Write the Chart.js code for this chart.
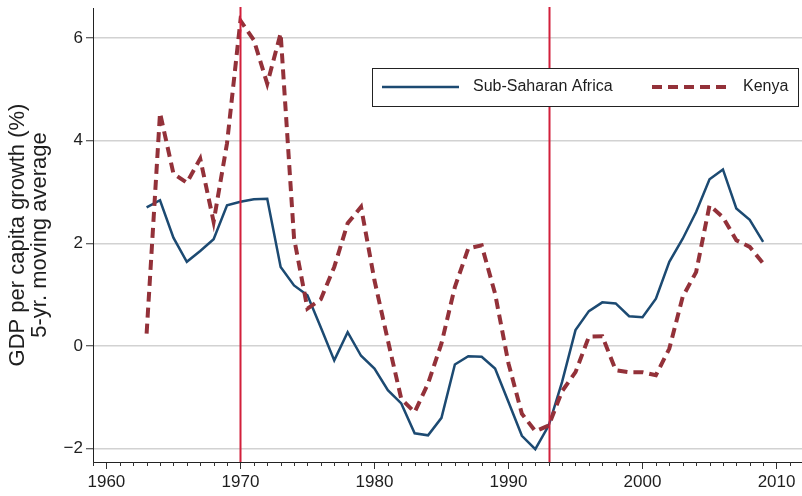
<!DOCTYPE html>
<html>
<head>
<meta charset="utf-8">
<script src="https://cdn.jsdelivr.net/npm/chart.js@4.4.0/dist/chart.umd.min.js"></script>
<style>
  html, body { margin: 0; padding: 0; background: #fff; }
</style>
</head>
<body>
<canvas id="gdpChart" width="802" height="496"></canvas>
<script>
// years on the x axis
const years = [1963, 1964, 1965, 1966, 1967, 1968, 1969, 1970, 1971, 1972,
               1973, 1974, 1975, 1976, 1977, 1978, 1979, 1980, 1981, 1982,
               1983, 1984, 1985, 1986, 1987, 1988, 1989, 1990, 1991, 1992,
               1993, 1994, 1995, 1996, 1997, 1998, 1999, 2000, 2001, 2002,
               2003, 2004, 2005, 2006, 2007, 2008, 2009];

// GDP per capita growth, 5-yr moving average (%)
const ssaValues = [2.70, 2.84, 2.11, 1.64, 1.85, 2.08, 2.74, 2.81, 2.86, 2.87,
                   1.54, 1.18, 0.99, 0.36, -0.28, 0.27, -0.19, -0.44, -0.86, -1.12,
                   -1.70, -1.74, -1.40, -0.36, -0.20, -0.21, -0.44, -1.09, -1.75, -2.01,
                   -1.55, -0.70, 0.31, 0.68, 0.85, 0.83, 0.58, 0.56, 0.92, 1.64,
                   2.09, 2.61, 3.25, 3.44, 2.68, 2.46, 2.03];

const kenyaValues = [0.24, 4.54, 3.36, 3.18, 3.65, 2.42, 3.95, 6.34, 5.96, 5.11,
                     6.09, 2.10, 0.73, 0.91, 1.54, 2.39, 2.71, 1.28, 0.11, -1.03,
                     -1.29, -0.73, 0.05, 1.15, 1.90, 1.96, 1.02, -0.34, -1.32, -1.66,
                     -1.55, -0.88, -0.51, 0.18, 0.19, -0.47, -0.51, -0.51, -0.57, -0.05,
                     0.96, 1.44, 2.74, 2.51, 2.06, 1.93, 1.61];

const seriesNames = ['Sub-Saharan Africa', 'Kenya'];
const xTickYears = [1960, 1970, 1980, 1990, 2000, 2010];
const yTickValues = [-2, 0, 2, 4, 6];
const markerYears = [1970, 1993];

const blue = '#1c4a72';
const red = '#933139';
const lineRed = '#d21f3b';
const textColor = '#1e1e1e';
const fontFamily = '"Liberation Sans", Arial, Helvetica, sans-serif';

// vertical lines, minor year ticks and the boxed legend
const extras = {
    id: 'extras',
    afterDatasetsDraw(chart) {
        const { ctx, chartArea, scales: { x } } = chart;
        ctx.save();
        ctx.strokeStyle = lineRed;
        ctx.lineWidth = 2;
        markerYears.forEach(function(yr) {
            const px = Math.round(x.getPixelForValue(yr)) + 0.5;
            ctx.beginPath();
            ctx.moveTo(px, chartArea.top - 1);
            ctx.lineTo(px, chartArea.bottom);
            ctx.stroke();
        });
        ctx.restore();
    },
    afterDraw(chart) {
        const { ctx, chartArea, scales: { x } } = chart;
        ctx.save();
        // minor ticks every year
        ctx.strokeStyle = '#333';
        ctx.lineWidth = 1;
        for (let yr = Math.ceil(x.min); yr <= x.max; yr++) {
            if (yr % 10 === 0) continue;
            const px = Math.round(x.getPixelForValue(yr)) + 0.5;
            ctx.beginPath();
            ctx.moveTo(px, chartArea.bottom);
            ctx.lineTo(px, chartArea.bottom + 4);
            ctx.stroke();
        }

        // legend box
        const bx = 372, by = 68, bw = 426, bh = 38;
        ctx.fillStyle = '#fff';
        ctx.fillRect(bx, by, bw, bh);
        ctx.strokeStyle = '#222';
        ctx.lineWidth = 1;
        ctx.strokeRect(bx + 0.5, by + 0.5, bw, bh);

        const cy = by + bh / 2;
        const ds = chart.data.datasets;
        ctx.font = '16px ' + fontFamily;
        ctx.textBaseline = 'middle';
        ctx.fillStyle = textColor;

        ctx.strokeStyle = blue;
        ctx.lineWidth = 2.5;
        ctx.beginPath();
        ctx.moveTo(bx + 10, cy);
        ctx.lineTo(bx + 87, cy);
        ctx.stroke();
        ctx.fillText(ds[0].label, bx + 101, cy);

        ctx.strokeStyle = red;
        ctx.lineWidth = 4;
        ctx.setLineDash([10, 6]);
        ctx.beginPath();
        ctx.moveTo(bx + 280, cy);
        ctx.lineTo(bx + 358, cy);
        ctx.stroke();
        ctx.setLineDash([]);
        ctx.fillText(ds[1].label, bx + 371, cy);
        ctx.restore();
    }
};

const ctx = document.getElementById('gdpChart').getContext('2d');

new Chart(ctx, {
    type: 'line',
    data: {
        datasets: [{
            label: seriesNames[0],
            data: years.map(function(yr, i) { return { x: yr, y: ssaValues[i] }; }),
            borderColor: blue,
            borderWidth: 2.5,
            pointRadius: 0,
            tension: 0,
            fill: false,
            order: 2
        }, {
            label: seriesNames[1],
            data: years.map(function(yr, i) { return { x: yr, y: kenyaValues[i] }; }),
            borderColor: red,
            borderWidth: 4,
            borderDash: [10, 6],
            pointRadius: 0,
            tension: 0,
            fill: false,
            order: 1
        }]
    },
    options: {
        responsive: false,
        animation: false,
        layout: { padding: { top: 8, right: 0, left: 0, bottom: 0 } },
        plugins: {
            legend: { display: false },
            tooltip: { enabled: false }
        },
        scales: {
            x: {
                type: 'linear',
                min: 1959.0,
                max: 2011.9,
                afterBuildTicks: function(axis) {
                    axis.ticks = xTickYears.map(function(v) { return { value: v }; });
                },
                afterFit: function(axis) {
                    axis.height = 34;
                    axis.paddingLeft = 0;
                    axis.paddingRight = 0;
                },
                grid: {
                    drawOnChartArea: false,
                    drawTicks: true,
                    tickLength: 7,
                    tickColor: '#333',
                    tickWidth: 1
                },
                border: { color: '#222', width: 1 },
                ticks: {
                    color: textColor,
                    font: { family: fontFamily, size: 17 },
                    padding: 3,
                    maxRotation: 0,
                    autoSkip: false,
                    callback: function(v) { return String(v); }
                }
            },
            y: {
                min: -2.26,
                max: 6.585,
                afterBuildTicks: function(axis) {
                    axis.ticks = yTickValues.map(function(v) { return { value: v }; });
                },
                afterFit: function(axis) {
                    axis.width = 93;
                    axis.paddingTop = 0;
                    axis.paddingBottom = 0;
                },
                grid: {
                    color: '#d2d2d2',
                    lineWidth: 1.5,
                    tickLength: 7,
                    tickColor: '#333',
                    tickWidth: 1
                },
                border: { color: '#222', width: 1 },
                ticks: {
                    color: textColor,
                    font: { family: fontFamily, size: 17 },
                    padding: 3,
                    callback: function(v) { return v < 0 ? '\u2212' + Math.abs(v) : String(v); }
                },
                title: {
                    display: true,
                    text: ['GDP per capita growth (%)', '5-yr. moving average'],
                    color: textColor,
                    font: { family: fontFamily, size: 22, lineHeight: 1.0 },
                    padding: { top: 7, bottom: 0 }
                }
            }
        }
    },
    plugins: [extras]
});
</script>
</body>
</html>
